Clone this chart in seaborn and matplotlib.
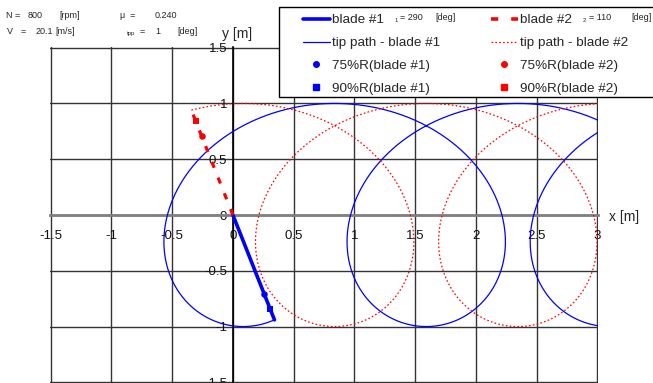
import numpy as np
import matplotlib
matplotlib.use("Agg")
import matplotlib.pyplot as plt
import seaborn as sns
from matplotlib.lines import Line2D
from matplotlib.patches import Rectangle

# ---------------- data ----------------
rpm = 800            # N [rpm]
V = 20.1             # [m/s]
mu = 0.240           # advance ratio
alpha_tpp = 1        # [deg]
R = 1.0              # rotor radius [m]
psi_deg = [290, 110]            # azimuth of blade #1, blade #2 [deg]
blade_names = ["blade #1", "blade #2"]
blade_colors = ["#0000FF", "#FF0000"]
stations = [0.75, 0.90]         # radial stations marked on the blades
x_ticks = [-1.5, -1, -0.5, 0, 0.5, 1, 1.5, 2, 2.5, 3]
y_ticks = [-1.5, -1, -0.5, 0, 0.5, 1, 1.5]

W, H = 653, 383
def fx(px): return px / W
def fy(py): return 1 - py / H

sns.set_theme(style="white")
plt.rcParams["font.family"] = ["Liberation Sans", "DejaVu Sans"]

fig = plt.figure(figsize=(W / 100, H / 100), dpi=100)
ax = fig.add_axes([fx(50), 0, 548 / W, 336 / H])

# tip paths (trochoid from mu and blade azimuth)
for k, (p0, col) in enumerate(zip(psi_deg, blade_colors)):
    psi0 = np.deg2rad(p0)
    psi = np.linspace(psi0, psi0 - 6 * np.pi, 3000)
    xs = R * np.cos(psi) + mu * R * (psi0 - psi)
    ys = R * np.sin(psi)
    ls = "-" if k == 0 else (0, (1.3, 1.8))
    sns.lineplot(x=xs, y=ys, sort=False, estimator=None, color=col,
                 lw=0.9, linestyle=ls, ax=ax, zorder=3)

# blades and radial-station markers
for k, (p0, col) in enumerate(zip(psi_deg, blade_colors)):
    c, s = np.cos(np.deg2rad(p0)), np.sin(np.deg2rad(p0))
    ls = "-" if k == 0 else (0, (2.0, 3.3))
    lw = 2.6 if k == 0 else 2.3
    sns.lineplot(x=[0, R * c], y=[0, R * s], sort=False, estimator=None,
                 color=col, lw=lw, linestyle=ls, ax=ax, zorder=4)
    for st, mk, sz in zip(stations, ["o", "s"], [22, 18]):
        sns.scatterplot(x=[st * R * c], y=[st * R * s], marker=mk, s=sz,
                        color=col, edgecolor=col, linewidth=0, ax=ax, zorder=5)

eps = 0.006
ax.set_xlim(-1.5 - eps, 3 + eps)
ax.set_ylim(-1.5 - eps, 1.5 + eps)
ax.set_xticks(x_ticks)
ax.set_yticks(y_ticks)
ax.set_xticklabels([f"{v:g}" for v in x_ticks])
ax.set_yticklabels([f"{v:g}" for v in y_ticks])
ax.grid(True, color="#333333", lw=1.0)
ax.set_axisbelow(True)
ax.set_facecolor("white")
for side in ["top", "right"]:
    ax.spines[side].set_visible(False)
ax.spines["bottom"].set_position(("data", 0))
ax.spines["left"].set_position(("data", 0))
ax.spines["bottom"].set_color("#808080")
ax.spines["bottom"].set_linewidth(2.0)
ax.spines["left"].set_color("black")
ax.spines["left"].set_linewidth(1.2)
ax.spines["bottom"].set_zorder(2.5)
ax.spines["left"].set_zorder(2.5)
ax.tick_params(axis="both", direction="inout", length=4, width=1,
               color="black", labelsize=9.5, labelcolor="#111111")
ax.tick_params(axis="x", pad=9)
ax.tick_params(axis="y", pad=2)
for t in ax.get_yticklabels():
    t.set_zorder(6)
for t in ax.get_xticklabels():
    t.set_zorder(6)

# axis titles
fig.text(fx(222), fy(34), "y [m]", fontsize=10, ha="left", va="center")
fig.text(fx(609), fy(217), "x [m]", fontsize=10, ha="left", va="center")

# top-left info text
info = [
    (6, 16, "N =", 6.5), (28, 16, "800", 6.5), (59, 16, "[rpm]", 6.5),
    (120, 16, "\u03bc  =", 6.5), (155, 16, "0.240", 6.5),
    (7, 32, "V", 6.5), (21, 32, "=", 6.5), (36, 32, "20.1", 6.5), (55, 32, "[m/s]", 6.5),
    (127, 34, "tpp", 4.3), (140, 32, "=", 6.5), (155, 32, f"{alpha_tpp}", 6.5),
    (177, 32, "[deg]", 6.5),
]
for px, py, s, fs in info:
    fig.text(fx(px), fy(py), s, fontsize=fs, ha="left", va="center")

# legend frame
frame = Rectangle((fx(279), fy(97)), (670 - 279) / W, 90 / H, transform=fig.transFigure,
                  facecolor="white", edgecolor="black", lw=1.0, zorder=10)
fig.patches.append(frame)

blue, red = blade_colors
h1 = [Line2D([], [], color=blue, lw=2.6),
      Line2D([], [], color=blue, lw=0.9),
      Line2D([], [], color=blue, ls="none", marker="o", markersize=4),
      Line2D([], [], color=blue, ls="none", marker="s", markersize=4)]
l1 = ["blade #1", "tip path - blade #1", "75%R(blade #1)", "90%R(blade #1)"]
h2 = [Line2D([], [], color=red, lw=2.6, linestyle=(0, (2.0, 3.6))),
      Line2D([], [], color=red, lw=0.9, linestyle=(0, (1.3, 1.8))),
      Line2D([], [], color=red, ls="none", marker="o", markersize=4),
      Line2D([], [], color=red, ls="none", marker="s", markersize=4)]
l2 = ["blade #2", "tip path - blade #2", "75%R(blade #2)", "90%R(blade #2)"]

common = dict(loc="upper left", frameon=False, borderpad=0, borderaxespad=0,
              handlelength=2.0, handletextpad=0.15, labelspacing=0.77, fontsize=9.7)
leg1 = fig.legend(h1, l1, bbox_to_anchor=(fx(303), fy(14)), **common)
leg2 = fig.legend(h2, l2, bbox_to_anchor=(fx(491), fy(14)), **common)
leg1.set_zorder(11)
leg2.set_zorder(11)

# azimuth annotations next to the legend entries
extra = [
    (395, 20, "1", 4.3), (400, 17, "= 290", 6.5), (435, 17, "[deg]", 6.5),
    (583, 20, "2", 4.3), (589, 17, "= 110", 6.5), (631, 17, "[deg]", 6.5),
]
for px, py, s, fs in extra:
    fig.text(fx(px), fy(py), s, fontsize=fs, ha="left", va="center", zorder=12)

fig.savefig("out.png", dpi=100, facecolor="white")
